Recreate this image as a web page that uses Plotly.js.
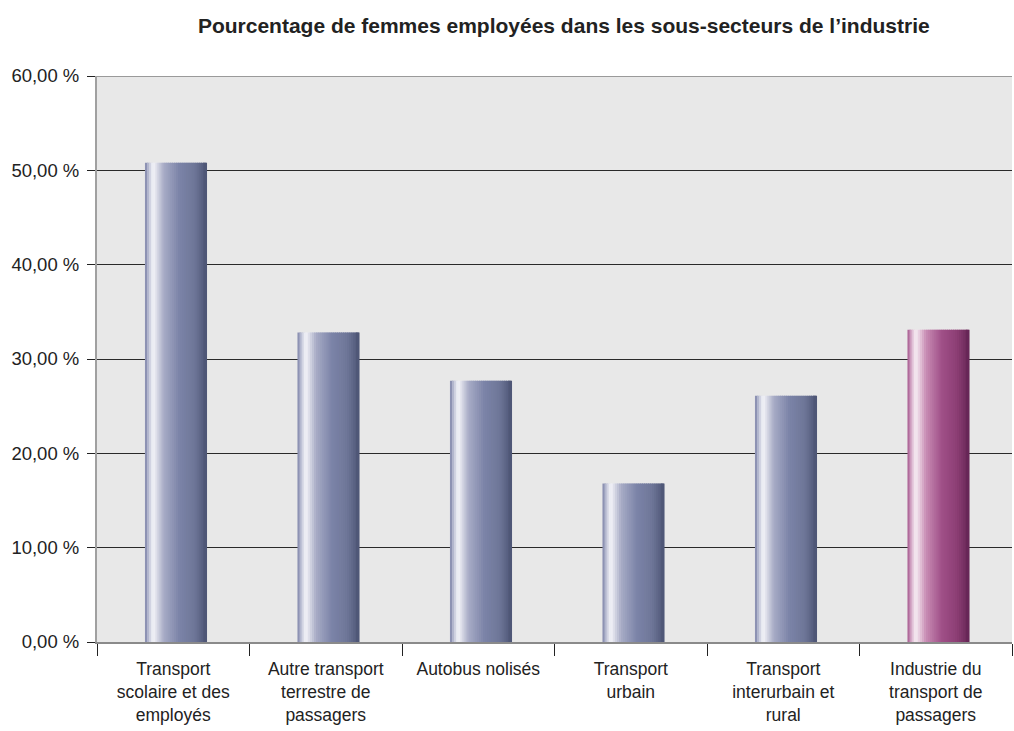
<!DOCTYPE html>
<html><head><meta charset="utf-8">
<script src="https://cdn.plot.ly/plotly-3.0.1.min.js"></script>
<style>body{margin:0;background:#fff}#c{width:1014px;height:731px}</style>
</head><body><div id="c"></div>
<script>
const categories = [
  "Transport<br>scolaire et des<br>employés",
  "Autre transport<br>terrestre de<br>passagers",
  "Autobus nolisés",
  "Transport<br>urbain",
  "Transport<br>interurbain et<br>rural",
  "Industrie du<br>transport de<br>passagers"
];
const values = [50.8, 32.8, 27.7, 16.8, 26.1, 33.1];
const isTotal = [false, false, false, false, false, true];
const yTicks = [0, 10, 20, 30, 40, 50, 60];

// gradient stops across the bar width (left -> right)
const blueStops = [[0,[122,128,166]],[0.06,[190,194,214]],[0.13,[246,246,250]],[0.3,[168,172,198]],[0.55,[124,132,168]],[0.8,[110,118,152]],[1,[76,84,116]]];
const pinkStops = [[0,[160,80,136]],[0.06,[214,170,200]],[0.13,[248,240,245]],[0.3,[200,140,180]],[0.55,[160,80,136]],[0.8,[140,62,116]],[1,[100,36,84]]];
function interp(stops,t){
  for(let i=1;i<stops.length;i++){
    if(t<=stops[i][0]){
      const a=stops[i-1],b=stops[i];const f=(t-a[0])/(b[0]-a[0]);
      const c=a[1].map((v,k)=>Math.round(v+(b[1][k]-v)*f));
      return 'rgb('+c.join(',')+')';
    }
  }
  return 'rgb('+stops[stops.length-1][1].join(',')+')';
}
const barW = 0.407, shift = 0.018, N = 30, sw = barW/N;
const traces = [];
for(let i=0;i<N;i++){
  const t=(i+0.5)/N;
  traces.push({
    type:'bar', x:categories, y:values,
    width: sw*1.6, offset: shift - barW/2 + i*sw - (i===N-1?sw*0.6:0),
    marker:{color: isTotal.map(p=>interp(p?pinkStops:blueStops,t)), line:{width:0}},
    hoverinfo:'skip', showlegend:false
  });
}
const layout = {
  width:1014, height:731,
  margin:{l:97,r:2,t:76,b:89},
  paper_bgcolor:'#ffffff', plot_bgcolor:'#e8e8e8',
  barmode:'overlay', separators:', ',
  font:{family:'Liberation Sans, Arial, sans-serif', size:17.5, color:'#222'},
  title:{text:'<b>Pourcentage de femmes employées dans les sous-secteurs de l’industrie</b>', x:0.556, xanchor:'center', y:0.965, yanchor:'middle', font:{size:21, color:'#222'}},
  xaxis:{type:'category', tickson:'boundaries', ticks:'outside', ticklen:12, tickcolor:'#222', tickwidth:1,
    showline:true, linecolor:'#8a8a8a', linewidth:2, showgrid:false, zeroline:false, range:[-0.5,5.5], fixedrange:true,
    tickfont:{size:17.5}, ticklabelstandoff:10},
  yaxis:{range:[0,60], tickvals:yTicks, ticktext:yTicks.map(v=>v.toFixed(2).replace('.',',')+' %'),
    ticks:'outside', ticklen:8, tickcolor:'#222', showline:true, linecolor:'#a0a0a0', linewidth:2,
    showgrid:true, gridcolor:'#2a2a2a', gridwidth:1, zeroline:false, tickfont:{size:18.5}, ticklabelstandoff:4},
  shapes:[{type:'line', xref:'paper', yref:'y', x0:0, x1:1, y0:60, y1:60, line:{color:'#9a9a9a', width:2}}]
};
Plotly.newPlot('c', traces, layout, {displayModeBar:false, staticPlot:true});
</script></body></html>
